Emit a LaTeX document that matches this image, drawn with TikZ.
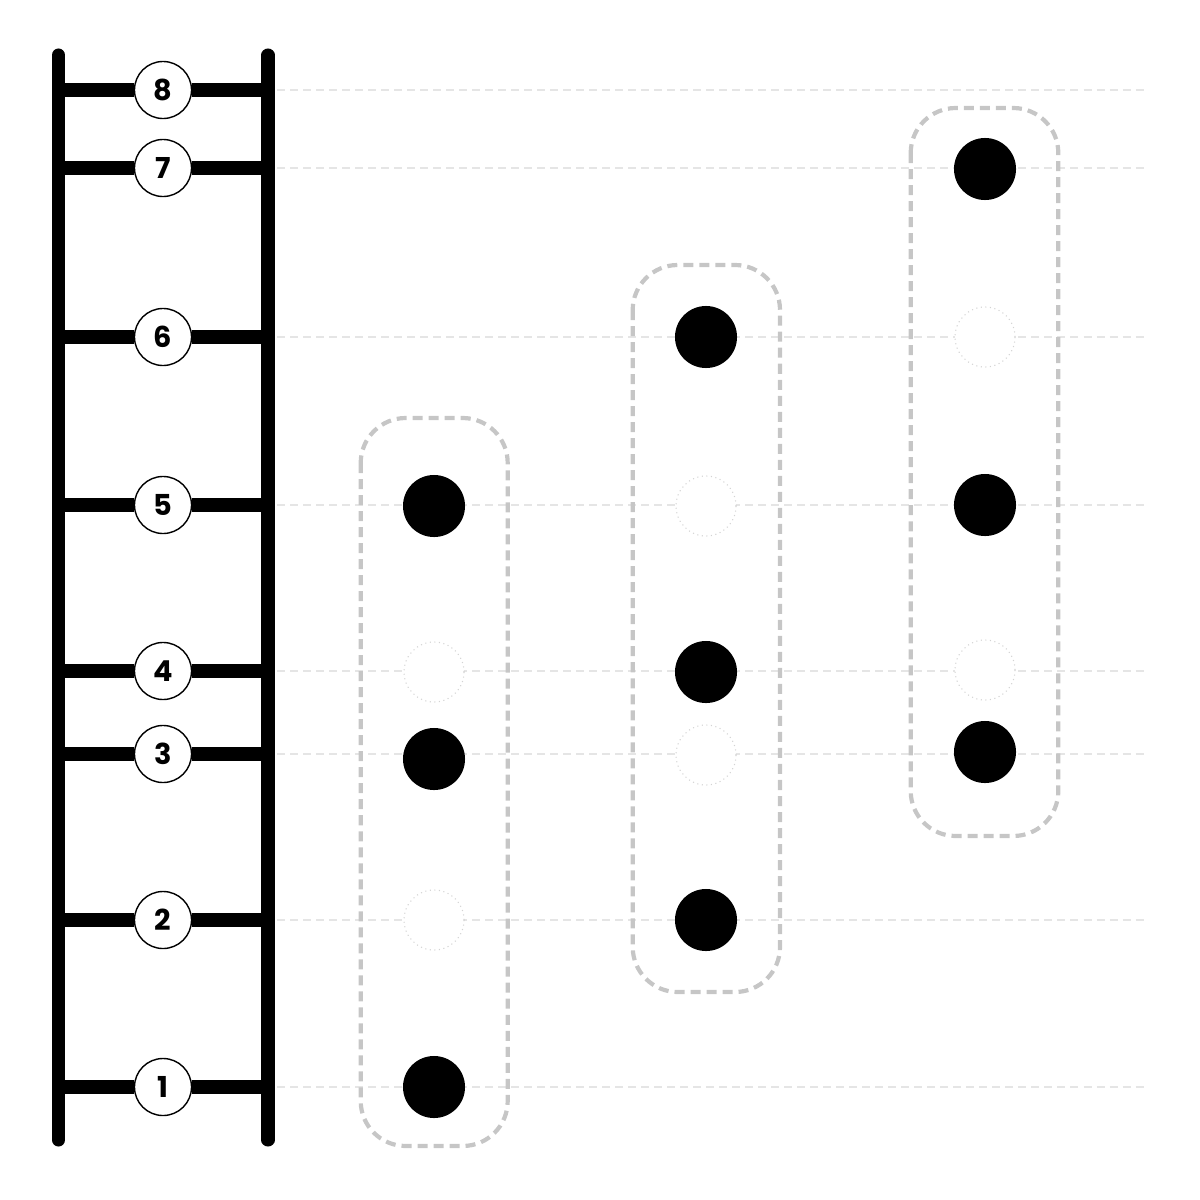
\documentclass[tikz,border=0pt]{standalone}
\usepackage[svgnames]{xcolor}
\usepackage{fontspec}
\setmainfont{Poppins}
\usetikzlibrary{calc}

\begin{document}
\begin{tikzpicture}[x=0.01cm, y=-0.01cm,
    rung/.style={line width=0.14cm},
    rail/.style={line width=0.13cm, line cap=round},
    num/.style={circle, draw, fill=white, line width=0.4pt, minimum size=0.57cm, inner sep=0pt, font=\bfseries\fontsize{8.2}{10}\selectfont},
    guide/.style={draw=Gainsboro!75, line width=0.02cm, dash pattern=on 0.08cm off 0.05cm},
    filleddot/.style={circle, fill=black, minimum size=0.62cm, inner sep=0pt},
    emptydot/.style={circle, draw=LightGray, fill=white, densely dotted, line width=0.3pt, minimum size=0.6cm, inner sep=0pt},
    groupbox/.style={draw=Silver!90, line width=0.042cm, dash pattern=on 0.1cm off 0.06cm, rounded corners=0.45cm}]
    \useasboundingbox (0,0) rectangle (1200,1200);
    % ladder rungs and guide lines
    \foreach \n/\y in {1/1087,2/920,3/754,4/671,5/505,6/337,7/168,8/90}{
        \coordinate (L\n) at (65,\y);
        \coordinate (R\n) at (262,\y);
        \node[num] (r\n) at (163,\y) {\n};
        \draw[rung] (L\n) -- (r\n) -- (R\n);
        \draw[guide] ($(R\n)+(15,0)$) -- (1147,\y);
    }
    \draw[rail] (58.5,55) -- (58.5,1140);
    \draw[rail] (268,55) -- (268,1140);
    % groups
    \draw[groupbox] (360.7,418) rectangle (507.7,1146);
    \draw[groupbox] (632.7,265) rectangle (780,992);
    \draw[groupbox] (910.7,108) rectangle (1058.3,836);
    \node[filleddot] (a1) at (434,1087) {};
    \node[emptydot] (a2) at (434,920) {};
    \node[filleddot] (a3) at (434,759) {};
    \node[emptydot] (a4) at (434,672) {};
    \node[filleddot] (a5) at (434,506) {};
    \node[filleddot] (b2) at (706,920) {};
    \node[emptydot] (b3) at (706,755) {};
    \node[filleddot] (b4) at (706,672) {};
    \node[emptydot] (b5) at (706,506) {};
    \node[filleddot] (b6) at (706,337) {};
    \node[filleddot] (c3) at (985,752) {};
    \node[emptydot] (c4) at (985,670) {};
    \node[filleddot] (c5) at (985,505) {};
    \node[emptydot] (c6) at (985,337) {};
    \node[filleddot] (c7) at (985,169) {};
\end{tikzpicture}
\end{document}
